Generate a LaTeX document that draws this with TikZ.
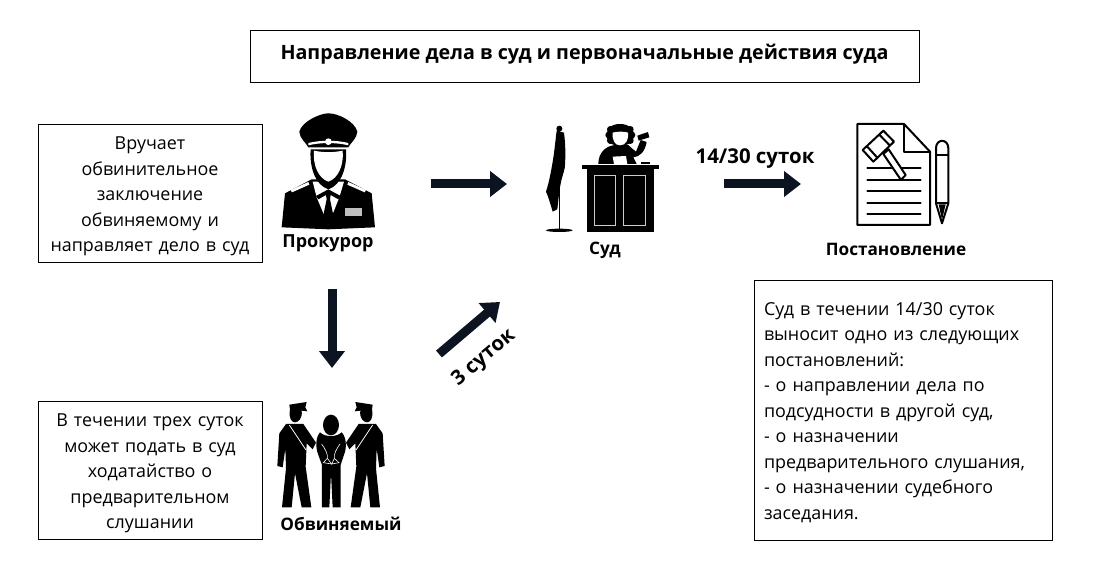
\documentclass[tikz,border=0pt]{standalone}
\usepackage{fontspec}
\setmainfont{Open Sans}
\usetikzlibrary{arrows.meta}
\definecolor{arrowfill}{HTML}{0B1420}
\tikzset{>=stealth}
\tikzset{
  infobox/.style={draw=black,line width=0.7pt,inner sep=0pt,font=\fontsize{17.9}{25.5}\selectfont},
  iconlabel/.style={font=\fontsize{17.2}{20}\selectfont\bfseries},
  blockarrow/.style={draw=arrowfill,line width=9pt,-{Triangle[width=25pt,length=17pt]}},
  icon/.style={shift={#1},x=0.3333pt,y=-0.3333pt},
}
\newcommand{\boxstrut}[1]{\rule{0pt}{#1}}
\begin{document}
\begin{tikzpicture}[x=1pt,y=-1pt]
\useasboundingbox (0,0) rectangle (1100,585);
% boxes
\node[draw=black,line width=0.7pt,minimum width=669pt,minimum height=52pt,inner sep=0pt,font=\fontsize{19.7}{22}\selectfont\bfseries] (title) at (584.5,56) {\rule[-9pt]{0pt}{1pt}Направление дела в суд и первоначальные действия суда};
\node[infobox,minimum width=224pt,minimum height=138pt,text width=224pt,align=center] (serve) at (150,193) {\boxstrut{20pt}Вручает\\обвинительное\\заключение\\обвиняемому  и\\направляет дело в суд};
\node[infobox,minimum width=224pt,minimum height=138pt,text width=224pt,align=center] (motion) at (150,470) {\boxstrut{20pt}В течении  трех суток\\может  подать в суд\\ходатайство  о\\предварительном\\слушании};
\node[infobox,minimum width=298pt,minimum height=260pt,text width=278pt,align=left] (rulings) at (903,410) {\boxstrut{18pt}Суд в течении  14/30 суток\\выносит  одно из следующих\\постановлений:\\- о направлении  дела по\\подсудности  в другой суд,\\- о назначении\\предварительного  слушания,\\- о назначении  судебного\\заседания.};
% labels
\node[iconlabel,font=\fontsize{18}{20}\selectfont\bfseries] (prosecutor) at (328,243) {Прокурор};
\node[iconlabel] (court) at (605,250) {Суд};
\node[iconlabel] (ruling) at (896,249) {Постановление};
\node[iconlabel] (accused) at (341,524) {Обвиняемый};
\node[font=\fontsize{20.4}{22}\selectfont\bfseries] (days) at (755,159) {14/30 суток};
\node[font=\fontsize{20.4}{22}\selectfont\bfseries,rotate=40] (threedays) at (484,358) {3 суток};
% arrows
\coordinate (a1) at (431,184);
\coordinate (a2) at (507,184);
\coordinate (b1) at (724,184);
\coordinate (b2) at (801,184);
\coordinate (c1) at (332,289);
\coordinate (c2) at (332,368);
\coordinate (d1) at (439,354);
\coordinate (d2) at (500,302);
\draw[blockarrow] (a1) -- (a2);
\draw[blockarrow] (b1) -- (b2);
\draw[blockarrow] (c1) -- (c2);
\draw[blockarrow] (d1) -- (d2);
% prosecutor
\begin{scope}[icon={(270,110)}]
\fill (88,65) .. controls (95,35) and (150,10) .. (175,10) .. controls (205,10) and (255,35) .. (262,65) .. controls (262,85) and (240,100) .. (235,112) -- (115,112) .. controls (110,100) and (88,85) .. (88,65) -- cycle;
\fill[white] (115,99) .. controls (150,90) and (200,90) .. (235,99) -- (235,106) .. controls (200,97) and (150,97) .. (115,106) -- cycle;
\fill[white] (175,95) circle (10);
\fill (35,352) -- (45,250) -- (125,208) -- (225,208) -- (305,250) -- (315,352) -- (175,358) -- cycle;
\fill[white] (128,215) -- (140,262) -- (175,345) -- (208,262) -- (222,215) -- cycle;
\fill (122,118) -- (228,118) .. controls (232,170) and (215,225) .. (175,238) .. controls (135,225) and (118,170) .. (122,118) -- cycle;
\fill[white] (132,122) .. controls (160,128) and (190,128) .. (218,122) .. controls (222,165) and (205,205) .. (175,215) .. controls (145,205) and (128,165) .. (132,122) -- cycle;
\fill (138,258) -- (175,238) -- (212,258) -- (205,268) -- (182,255) -- (180,268) -- (193,330) -- (175,345) -- (157,330) -- (170,268) -- (168,255) -- (145,268) -- cycle;
\fill[white] (62,240) -- (115,216) -- (118,224) -- (66,247) -- cycle;
\fill[white] (288,240) -- (235,216) -- (232,224) -- (284,247) -- cycle;
\fill[white!75!black] (225,295) rectangle (275,318);
\end{scope}
% court
\begin{scope}[icon={(530,110)}]
\draw[line width=1.2pt] (88,55) -- (88,358);
\fill (88,361) ellipse (40 and 5);
\fill (88,56) circle (9);
\fill (80,62) -- (102,68) .. controls (108,110) and (106,160) .. (104,175) .. controls (100,195) and (92,205) .. (86,262) -- (82,298) -- (68,305) .. controls (62,285) and (55,260) .. (48,245) .. controls (58,215) and (66,170) .. (72,130) -- cycle;
\fill (155,165) rectangle (388,177);
\fill (170,177) rectangle (373,186);
\fill (172,186) rectangle (372,365);
\draw[white!80!black,line width=1pt] (193,196) rectangle (258,346);
\draw[white!80!black,line width=1pt] (281,196) rectangle (346,346);
% judge
\fill (205,162) .. controls (205,130) and (225,108) .. (255,105) -- (295,105) .. controls (305,115) and (312,120) .. (318,125) -- (332,90) -- (350,96) .. controls (345,125) and (330,140) .. (310,142) -- (320,162) -- cycle;
\fill (270,42) .. controls (300,42) and (312,60) .. (312,75) .. controls (312,95) and (300,105) .. (270,108) .. controls (240,105) and (230,95) .. (230,75) .. controls (230,60) and (240,42) .. (270,42) -- cycle;
\foreach \curlx/\curly in {241/58,236/75,241/92,301/58,306/75,301/92}
  \fill (\curlx,\curly) circle (10);
\fill[white] (248,68) .. controls (260,64) and (285,64) .. (294,68) .. controls (296,90) and (288,106) .. (270,106) .. controls (254,106) and (246,90) .. (248,68) -- cycle;
\fill[white] (248,140) -- (288,138) -- (292,162) -- (252,162) -- cycle;
\fill (322,77) -- (354,66) -- (358,82) -- (326,92) -- cycle;
\fill (332,155) rectangle (360,162);
\end{scope}
% ruling
\begin{scope}[icon={(840,110)},line join=round]
\draw[line width=2pt] (52,42) -- (192,42) -- (270,125) -- (270,345) -- (52,345) -- cycle;
\draw[line width=2pt] (192,42) -- (192,125) -- (270,125);
\foreach \liney in {175,210,243,278,312}
  \draw[line width=2pt,line cap=round] (82,\liney) -- (242,\liney);
\draw[white,line width=6pt] (130,125) -- (190,205);
\draw[line width=2pt,fill=white] (130,132) -- (146,118) -- (197,195) -- (183,210) -- cycle;
\draw[line width=2pt,fill=white] (68,120) -- (130,62) -- (162,95) -- (100,155) -- cycle;
\draw[line width=2pt] (80,108) -- (112,143);
\draw[line width=2pt] (118,74) -- (150,107);
\draw[line width=2pt] (288,280) -- (288,115) .. controls (288,85) and (325,85) .. (325,115) -- (325,280) -- (306,340) -- cycle;
\draw[line width=2pt] (288,135) -- (325,135);
\draw[line width=2pt] (288,280) -- (325,280);
\fill (296,283) -- (317,283) -- (306,330) -- cycle;
\end{scope}
% accused
\begin{scope}[icon={(270,390)}]
% left officer
\fill (58,44) -- (110,36) -- (106,52) -- (112,64) -- (95,62) .. controls (98,85) and (85,97) .. (75,97) .. controls (65,97) and (55,85) .. (60,58) -- cycle;
\fill (48,102) -- (100,102) -- (138,158) -- (128,178) -- (110,160) -- (107,230) -- (124,352) -- (95,352) -- (75,250) -- (65,352) -- (36,352) -- (48,235) -- (46,175) -- (38,232) -- (22,228) -- (28,130) -- cycle;
\draw[white,line width=0.8pt] (58,105) -- (108,180);
% right officer
\fill (308,44) -- (256,36) -- (260,52) -- (254,64) -- (271,62) .. controls (268,85) and (281,97) .. (291,97) .. controls (301,97) and (311,85) .. (306,58) -- cycle;
\fill (318,102) -- (266,102) -- (228,158) -- (238,178) -- (256,160) -- (259,230) -- (242,352) -- (271,352) -- (291,250) -- (301,352) -- (330,352) -- (318,235) -- (320,175) -- (328,232) -- (344,228) -- (338,130) -- cycle;
\draw[white,line width=0.8pt] (308,105) -- (258,180);
% prisoner
\fill (183,105) ellipse (24 and 31);
\fill (150,127) .. controls (165,142) and (200,142) .. (215,127) .. controls (228,140) and (232,170) .. (222,195) -- (212,225) -- (212,352) -- (188,352) -- (183,250) -- (178,352) -- (156,352) -- (156,225) -- (145,195) .. controls (135,170) and (138,140) .. (150,127) -- cycle;
\draw[white,line width=0.6pt] (155,162) .. controls (165,175) and (175,195) .. (172,205) -- (160,218) -- (185,222) -- (172,205);
\draw[white,line width=0.6pt] (210,162) .. controls (200,175) and (190,195) .. (193,205) -- (207,218) -- (185,222) -- (193,205);
\end{scope}
\end{tikzpicture}
\end{document}
